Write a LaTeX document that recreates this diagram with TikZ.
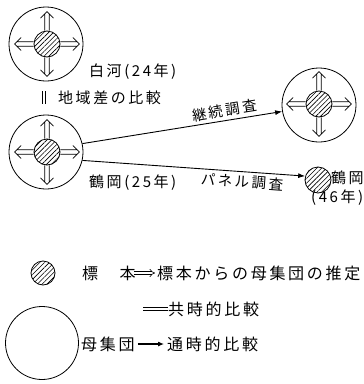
\documentclass[tikz,border=0pt]{standalone}
\usepackage{fontspec}
\newfontfamily\jp[LetterSpace=17]{Noto Sans CJK JP}
\usetikzlibrary{arrows.meta,patterns.meta}
\tikzset{darr/.pic={
  \draw[line width=0.65pt] (0,2.2) -- (17,2.2) (0,-2.2) -- (17,-2.2) (12.5,6.5) -- (19,0) -- (12.5,-6.5);
}}
\begin{document}
\begin{tikzpicture}[x=1pt,y=-1pt,
  big/.style={circle,draw,line width=0.8pt,minimum size=74pt,inner sep=0},
  hatch/.style={circle,draw,line width=0.8pt,minimum size=26pt,inner sep=0,
    pattern={Lines[angle=45,distance=3.4pt,line width=0.6pt]}},
  lbl/.style={inner sep=0,anchor=west,font=\jp\fontsize{15}{15}\selectfont},
  lblr/.style={inner sep=0,font=\jp\fontsize{14.5}{15}\selectfont},
  leg/.style={inner sep=0,anchor=west,font=\jp\fontsize{16}{16}\selectfont},
  conn/.style={line width=0.9pt,-{Latex[length=7pt,width=5pt]}},
  dline/.style={double,double distance=2.2pt,line width=0.6pt},
]
\useasboundingbox (0,0) rectangle (364,384);
% unit A
\node[big] (A) at (46,44) {};
\node[hatch] (a) at (47,44) {};
\path (a.north) pic[rotate=90] {darr} (a.south) pic[rotate=-90] {darr}
      (a.east) pic {darr} (a.west) pic[rotate=180] {darr};
% unit B
\node[big] (B) at (46,152) {};
\node[hatch] (b) at (47,152) {};
\path (b.north) pic[rotate=90] {darr} (b.south) pic[rotate=-90] {darr}
      (b.east) pic {darr} (b.west) pic[rotate=180] {darr};
% unit C
\node[big] (C) at (319,105) {};
\node[hatch] (c) at (319,104) {};
\path (c.north) pic[rotate=90] {darr} (c.south) pic[rotate=-90] {darr}
      (c.east) pic {darr} (c.west) pic[rotate=180] {darr};
% sample only
\node[hatch] (s) at (318,180) {};
% labels
\node[lbl] (tA) at (89,72) {白河(24年)};
\node[lbl] (tR) at (58,98) {地域差の比較};
\node[lbl] (tB) at (89,183) {鶴岡(25年)};
\node[lbl] (tS1) at (331,178) {鶴岡};
\node[lbl] (tS2) at (311,198) {(46年)};
\draw[dline] ([xshift=-2pt,yshift=-10pt]A.south) -- ([xshift=-2pt,yshift=11pt]B.north);
% connectors
\draw[conn] (B.13) -- node[pos=0.72,above=3pt,sloped,lblr] (tC) {継続調査} (C.190);
\draw[conn] (B.-13) -- node[pos=0.72,below=3pt,sloped,lblr] (tP) {パネル調査} (s.163);
% legend
\node[hatch,minimum size=24pt] (l) at (43,273) {};
\node[leg] (k1) at (82,273) {標　本};
\node[leg] (k2) at (157,273) {標本からの母集団の推定};
\draw[dline,-{Implies}] ([xshift=-2pt]k1.east) -- ([xshift=-2pt]k2.west);
\coordinate (e) at (143,309);
\node[leg] (k3) at (168,309) {共時的比較};
\draw[dline] (e) -- (k3.west);
\node[big,minimum size=73pt] (P) at (42,343) {};
\node[leg] (k4) at (81,344) {母集団};
\node[leg] (k5) at (167,344) {通時的比較};
\draw[line width=1.1pt,-{Latex[length=6pt,width=5pt]}] ([xshift=3pt]k4.east) -- ([xshift=-3pt]k5.west);
\end{tikzpicture}
\end{document}
